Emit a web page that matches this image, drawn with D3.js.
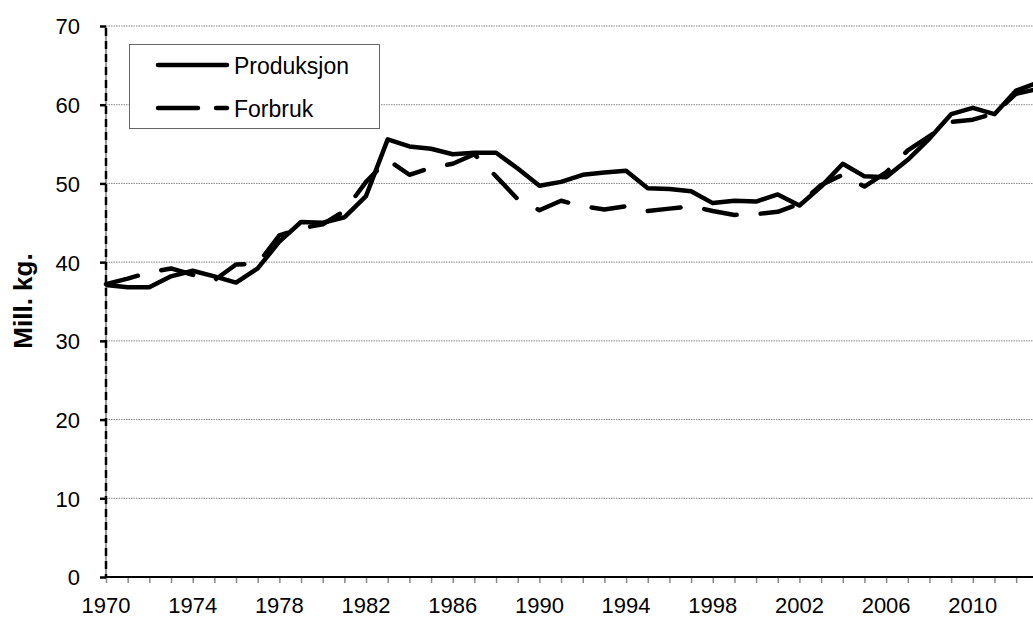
<!DOCTYPE html>
<html><head><meta charset="utf-8">
<script src="https://cdn.jsdelivr.net/npm/d3@7/dist/d3.min.js"></script>
<style>body{margin:0;background:#fff;overflow:hidden}text{font-family:"Liberation Sans",Arial,sans-serif}</style>
</head><body>
<svg id="c" width="1033" height="617"></svg>
<script>
const years = [1970,1971,1972,1973,1974,1975,1976,1977,1978,1979,1980,1981,1982,1983,1984,1985,1986,1987,1988,1989,1990,1991,1992,1993,1994,1995,1996,1997,1998,1999,2000,2001,2002,2003,2004,2005,2006,2007,2008,2009,2010,2011,2012,2013];
const produksjon = [37.1,36.8,36.8,38.2,38.9,38.2,37.4,39.2,42.6,45.1,45.0,45.7,48.4,55.6,54.7,54.4,53.7,53.9,53.9,51.9,49.7,50.2,51.1,51.4,51.6,49.4,49.3,49.0,47.5,47.8,47.7,48.6,47.2,49.6,52.5,50.9,50.8,53.0,55.7,58.8,59.6,58.8,61.8,62.8];
const forbruk = [37.2,37.9,38.7,39.2,38.4,37.7,39.7,39.8,43.4,44.3,44.8,46.5,50.2,53.0,51.1,52.0,52.5,53.7,50.9,48.0,46.6,47.8,47.1,46.7,47.1,46.5,46.8,47.1,46.5,46.0,46.1,46.4,47.4,49.8,51.1,49.6,51.4,54.2,56.0,57.8,58.1,58.9,61.4,62.0];
const yTicks = [0,10,20,30,40,50,60,70];
const xLabelYears = [1970,1974,1978,1982,1986,1990,1994,1998,2002,2006,2010];
const seriesNames = ["Produksjon","Forbruk"];
const yTitle = "Mill. kg.";

const svg = d3.select("#c");
const L = 106, T = 26, B = 577;
const x = d3.scaleLinear().domain([1970, 2013]).range([L, L + 43*21.67]);
const y = d3.scaleLinear().domain([0, 70]).range([B, T]);

// gridlines
svg.append("g").selectAll("line").data(yTicks.filter(d => d > 0)).join("line")
  .attr("x1", L).attr("x2", 1033).attr("y1", d => y(d)).attr("y2", d => y(d))
  .attr("stroke", "#888").attr("stroke-width", 1).attr("stroke-dasharray", "1.5,1");

// x axis
const xAxis = d3.axisBottom(x).tickValues(years.filter(d => d <= 2012)).tickSize(6).tickFormat("");
const gx = svg.append("g").attr("transform", `translate(0,${B})`).call(xAxis);
gx.select(".domain").remove();
gx.selectAll(".tick line").attr("stroke", "#888").attr("stroke-width", 1.5);
svg.append("line").attr("x1", L).attr("x2", 1033).attr("y1", B).attr("y2", B).attr("stroke", "#000").attr("stroke-width", 2);
svg.append("g").selectAll("text").data(xLabelYears).join("text")
  .attr("x", d => x(d)).attr("y", 613).attr("text-anchor", "middle")
  .attr("font-size", 22).attr("fill", "#000").text(d => d);

// y axis
svg.append("line").attr("x1", L).attr("x2", L).attr("y1", T).attr("y2", B).attr("stroke", "#999").attr("stroke-width", 2);
svg.append("line").attr("x1", L).attr("x2", L).attr("y1", T + 2).attr("y2", B).attr("stroke", "#000").attr("stroke-width", 2.5).attr("stroke-dasharray", "8,5");
const yAxis = d3.axisLeft(y).tickValues(yTicks).tickSize(6).tickPadding(20).tickFormat(d3.format("d"));
const gy = svg.append("g").attr("transform", `translate(${L},0)`).call(yAxis);
gy.select(".domain").remove();
gy.selectAll(".tick line").attr("stroke", "#000").attr("stroke-width", 2.5);
gy.selectAll(".tick text").attr("font-size", 22).attr("fill", "#000").attr("font-family", '"Liberation Sans",Arial,sans-serif').attr("dy", "0.36em");

svg.append("text").attr("transform", "translate(31.5,301) rotate(-90)")
  .attr("text-anchor", "middle").attr("font-size", 26).attr("font-weight", "bold").text(yTitle);

// lines
const line = d3.line().x((d, i) => x(years[i])).y(d => y(d));
svg.append("path").datum(produksjon).attr("d", line).attr("fill", "none")
  .attr("stroke", "#000").attr("stroke-width", 4.5).attr("stroke-linejoin", "round");
svg.append("path").datum(forbruk).attr("d", line).attr("fill", "none")
  .attr("stroke", "#000").attr("stroke-width", 4.5).attr("stroke-linejoin", "round")
  .attr("stroke-linecap", "round").attr("stroke-dasharray", "33,24");

// legend
const lg = svg.append("g");
lg.append("rect").attr("x", 129.5).attr("y", 44.5).attr("width", 250).attr("height", 84)
  .attr("fill", "#fff").attr("stroke", "#666").attr("stroke-width", 1);
const ly = [65, 108];
lg.append("line").attr("x1", 158).attr("x2", 227).attr("y1", ly[0]).attr("y2", ly[0])
  .attr("stroke", "#000").attr("stroke-width", 4.5).attr("stroke-linecap", "round");
lg.append("line").attr("x1", 158).attr("x2", 227).attr("y1", ly[1]).attr("y2", ly[1])
  .attr("stroke", "#000").attr("stroke-width", 4.5).attr("stroke-linecap", "round").attr("stroke-dasharray", "40,18");
lg.selectAll("text").data(seriesNames).join("text")
  .attr("x", 234).attr("y", (d, i) => ly[i] + 9).attr("font-size", 23).attr("fill", "#000").text(d => d);
</script>
</body></html>
